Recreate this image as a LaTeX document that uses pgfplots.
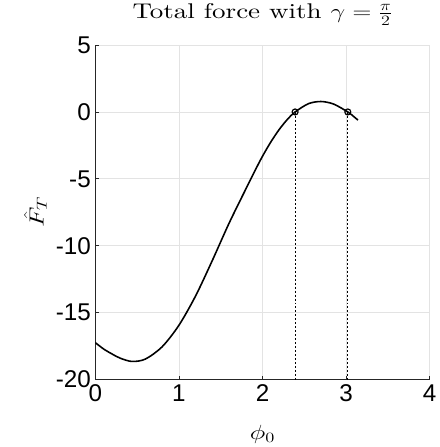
\documentclass[border=0pt]{standalone}
\usepackage{fontspec}
\usepackage{graphicx}
\setsansfont{Liberation Sans}
\newfontfamily\lmten{lmroman10-regular.otf}
\usepackage{pgfplots}
\pgfplotsset{compat=1.18}
\definecolor{axgray}{HTML}{262626}
\definecolor{gridgray}{HTML}{E3E3E3}

\begin{document}
\begin{tikzpicture}
\begin{axis}[
  name=ax,
  scale only axis,
  width=337bp, height=337bp,
  xmin=0, xmax=4, ymin=-20, ymax=5,
  xtick={0,1,2,3,4},
  ytick={-20,-15,-10,-5,0,5},
  yticklabels={-20,-15,-10,-5,0,5},
  xticklabels={0,1,2,3,4},
  axis x line*=bottom, axis y line*=left,
  axis line style={draw=axgray, line width=0.7bp},
  tick style={draw=axgray, line width=0.7bp},
  tick align=inside,
  major tick length=4bp,
  grid=major,
  major grid style={draw=gridgray, line width=0.7bp},
  tick label style={font=\sffamily\fontsize{24.5}{25}\selectfont, text=black},
  xticklabel style={yshift=-2bp},
  yticklabel style={xshift=-1bp},
  title={\scalebox{1.27}[1]{Total force with $\gamma=\frac{\pi}{2}$}},
  title style={font=\lmten\fontsize{21.5}{26}\selectfont, at={(0.5,1)}, anchor=base, yshift=21bp},
  xlabel={\scalebox{1.3}[1]{$\phi_0$}},
  xlabel style={font=\fontsize{20.5}{24}\selectfont, at={(0.5,0)}, anchor=base, yshift=-60bp},
  ylabel={\scalebox{1.3}[1]{$\hat{F}_T$}},
  ylabel style={font=\fontsize{21}{24}\selectfont, at={(0,0.5)}, anchor=base, yshift=52bp},
]
\addplot[black, line width=1.6bp, smooth, tension=0.5] coordinates {
(0,-17.24) (0.1,-17.72) (0.2,-18.09) (0.3,-18.41) (0.44,-18.65)
(0.6,-18.47) (0.8,-17.55) (1.0,-15.95) (1.2,-13.75) (1.4,-11.10)
(1.6,-8.32) (1.8,-5.77) (1.9,-4.51) (2.0,-3.31) (2.1,-2.24)
(2.2,-1.31) (2.3,-0.54) (2.39,0) (2.55,0.62) (2.7,0.78)
(2.85,0.59) (3.02,0) (3.1,-0.39) (3.1416,-0.61)
};
\addplot[black, line width=0.6bp, dash pattern=on 2bp off 2bp] coordinates {(2.39,0) (2.39,-20)};
\addplot[black, line width=0.6bp, dash pattern=on 2bp off 2bp] coordinates {(3.02,0) (3.02,-20)};
\addplot[only marks, mark=o, mark size=3bp, mark options={line width=1.2bp, black}] coordinates {(2.39,0) (3.02,0)};
\end{axis}
\path ([shift={(-96bp,-68bp)}]ax.south west) rectangle ([shift={(2bp,44bp)}]ax.north east);
\end{tikzpicture}
\end{document}
